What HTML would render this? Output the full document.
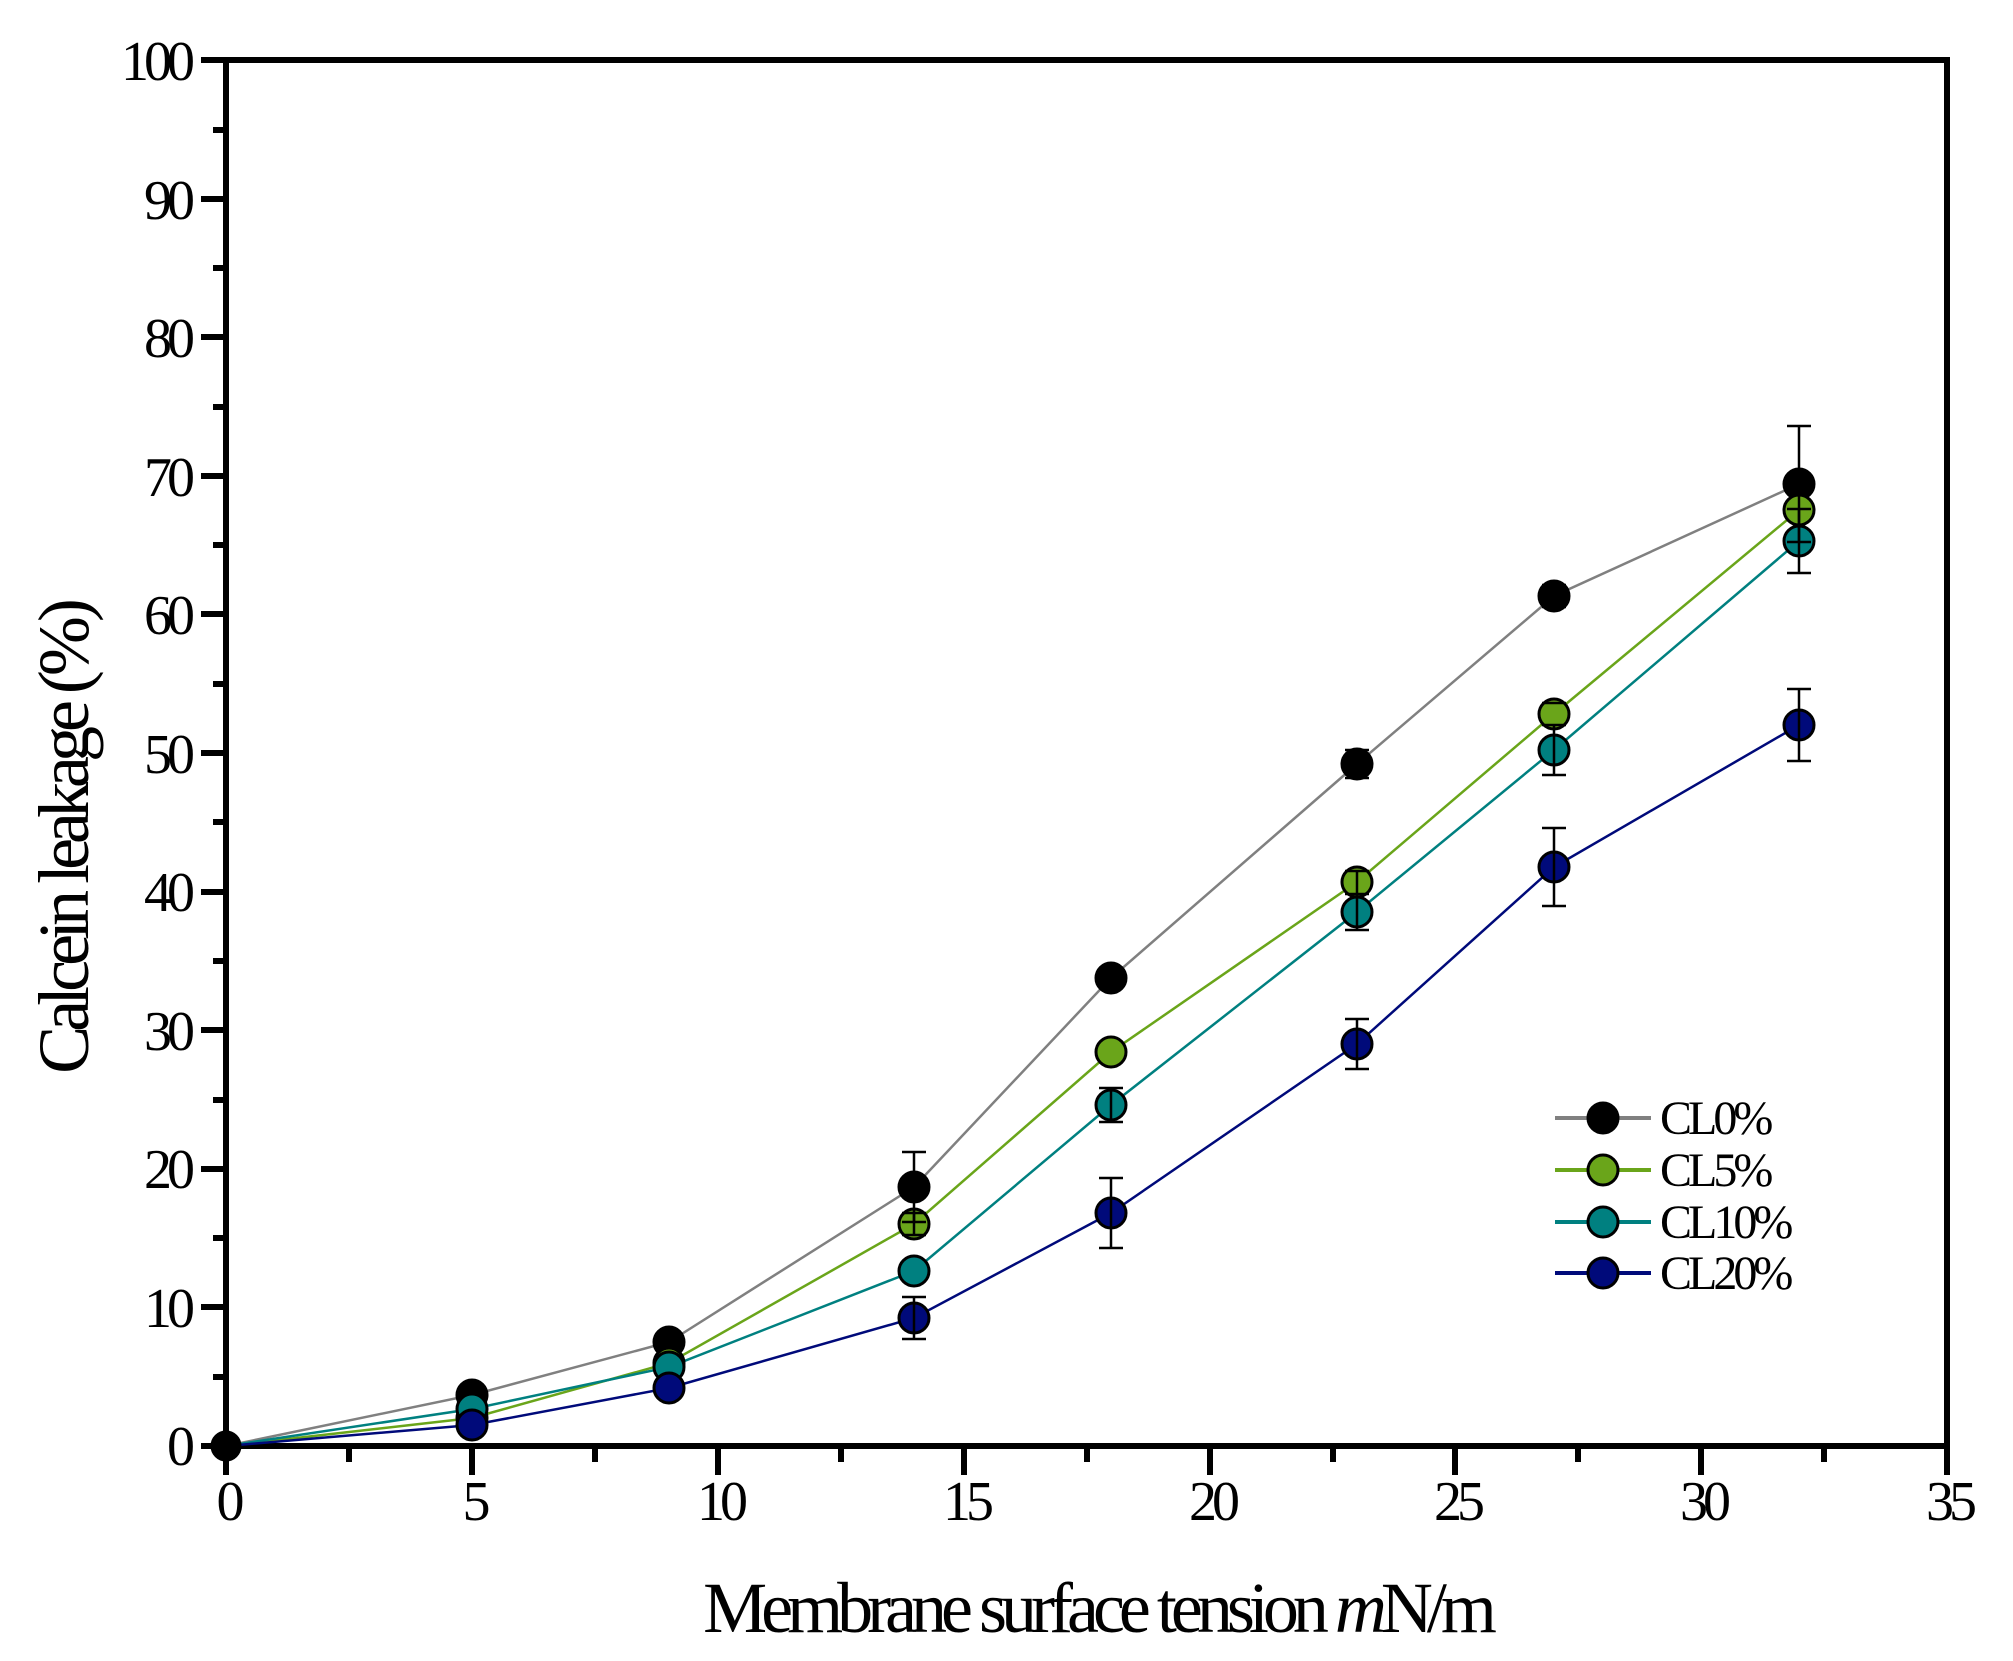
<!DOCTYPE html>
<html><head><meta charset="utf-8"><style>html,body{margin:0;padding:0;background:#fff}svg{display:block}text{font-family:"Liberation Serif",serif;fill:#000}</style></head><body>
<svg width="2013" height="1661" viewBox="0 0 2013 1661" xmlns="http://www.w3.org/2000/svg">
<g stroke="#000" stroke-width="6" fill="none">
<rect x="226" y="60" width="1721" height="1386"/>
<path d="M201 1446H226M201 1307H226M201 1169H226M201 1030H226M201 892H226M201 753H226M201 614H226M201 476H226M201 337H226M201 199H226M201 60H226"/>
<path d="M213 1377H226M213 1238H226M213 1100H226M213 961H226M213 822H226M213 684H226M213 545H226M213 407H226M213 268H226M213 130H226"/>
<path d="M226 1446V1475M472 1446V1475M718 1446V1475M964 1446V1475M1210 1446V1475M1455 1446V1475M1701 1446V1475M1947 1446V1475"/>
<path d="M349 1446V1462M595 1446V1462M841 1446V1462M1087 1446V1462M1333 1446V1462M1578 1446V1462M1824 1446V1462"/>
</g>
<g font-size="56" text-anchor="end" letter-spacing="-5">
<text x="190" y="1465">0</text><text x="190" y="1327">10</text><text x="190" y="1188">20</text><text x="190" y="1050">30</text><text x="190" y="911">40</text><text x="190" y="773">50</text><text x="190" y="634">60</text><text x="190" y="496">70</text><text x="190" y="357">80</text><text x="190" y="219">90</text><text x="190" y="80">100</text>
</g>
<g font-size="56" text-anchor="middle" letter-spacing="-5">
<text x="228" y="1520">0</text><text x="474" y="1520">5</text><text x="720" y="1520">10</text><text x="966" y="1520">15</text><text x="1212" y="1520">20</text><text x="1457" y="1520">25</text><text x="1703" y="1520">30</text><text x="1949" y="1520">35</text>
</g>
<text x="1097" y="1632" font-size="72" text-anchor="middle" letter-spacing="-6">Membrane surface tension <tspan font-style="italic">m</tspan>N/m</text>
<text transform="translate(88,839) rotate(-90)" font-size="72" text-anchor="middle" letter-spacing="-6">Calcein leakage (%)</text>

<g fill="none" stroke-width="2.5">
<polyline stroke="#808080" points="226,1446 472,1395 669,1342 914,1187 1111,978 1357,764 1554,596 1799,484"/>
<polyline stroke="#6aa51a" points="226,1446 472,1418 669,1363 914,1224 1111,1052 1357,882 1554,714 1799,510"/>
<polyline stroke="#008080" points="226,1446 472,1409 669,1367 914,1271 1111,1105 1357,912 1554,750 1799,541"/>
<polyline stroke="#000a7a" points="226,1446 472,1425 669,1388 914,1318 1111,1213 1357,1044 1554,867 1799,725"/>
</g>
<g stroke="#000" stroke-width="3">
<g fill="#000"><circle cx="226" cy="1446" r="14"/><circle cx="472" cy="1395" r="15"/><circle cx="669" cy="1342" r="15"/><circle cx="914" cy="1187" r="15"/><circle cx="1111" cy="978" r="15"/><circle cx="1357" cy="764" r="15"/><circle cx="1554" cy="596" r="15"/><circle cx="1799" cy="484" r="15"/></g>
<g fill="#6aa51a"><circle cx="472" cy="1418" r="15"/><circle cx="669" cy="1363" r="15"/><circle cx="914" cy="1224" r="15"/><circle cx="1111" cy="1052" r="15"/><circle cx="1357" cy="882" r="15"/><circle cx="1554" cy="714" r="15"/><circle cx="1799" cy="510" r="15"/></g>
<g fill="#008080"><circle cx="472" cy="1409" r="15"/><circle cx="669" cy="1367" r="15"/><circle cx="914" cy="1271" r="15"/><circle cx="1111" cy="1105" r="15"/><circle cx="1357" cy="912" r="15"/><circle cx="1554" cy="750" r="15"/><circle cx="1799" cy="541" r="15"/></g>
<g fill="#000a7a"><circle cx="472" cy="1425" r="15"/><circle cx="669" cy="1388" r="15"/><circle cx="914" cy="1318" r="15"/><circle cx="1111" cy="1213" r="15"/><circle cx="1357" cy="1044" r="15"/><circle cx="1554" cy="867" r="15"/><circle cx="1799" cy="725" r="15"/></g>
</g>
<g stroke="#000" stroke-width="2.5" fill="none">
<path d="M914 1152V1222M902 1152H926M902 1222H926"/>
<path d="M1357 750V778M1345 750H1369M1345 778H1369"/>
<path d="M1554 585V607M1542 585H1566M1542 607H1566"/>
<path d="M1799 426V542M1787 426H1811M1787 542H1811"/>
<path d="M914 1213V1235M902 1213H926M902 1235H926"/>
<path d="M1357 871V893M1345 871H1369M1554 703H1566M1542 703H1566"/>
<path d="M1799 509V573M1787 509H1811M1787 573H1811"/>
<path d="M1554 725V775M1542 725H1566M1542 775H1566"/>
<path d="M1357 894V930M1345 894H1369M1345 930H1369"/>
<path d="M1111 1088V1122M1099 1088H1123M1099 1122H1123"/>
<path d="M914 1297V1339M902 1297H926M902 1339H926"/>
<path d="M1111 1178V1248M1099 1178H1123M1099 1248H1123"/>
<path d="M1357 1019V1069M1345 1019H1369M1345 1069H1369"/>
<path d="M1554 828V906M1542 828H1566M1542 906H1566"/>
<path d="M1799 689V761M1787 689H1811M1787 761H1811"/>
</g>
<g stroke-width="4">
<line x1="1555" y1="1118" x2="1651" y2="1118" stroke="#808080"/>
<line x1="1555" y1="1170" x2="1651" y2="1170" stroke="#6aa51a"/>
<line x1="1555" y1="1222" x2="1651" y2="1222" stroke="#008080"/>
<line x1="1555" y1="1273" x2="1651" y2="1273" stroke="#000a7a"/>
</g>
<g stroke="#000" stroke-width="3">
<circle cx="1603" cy="1118" r="15" fill="#000"/>
<circle cx="1603" cy="1170" r="15" fill="#6aa51a"/>
<circle cx="1603" cy="1222" r="15" fill="#008080"/>
<circle cx="1603" cy="1273" r="15" fill="#000a7a"/>
</g>
<g font-size="48" letter-spacing="-4">
<text x="1660" y="1134">CL0%</text><text x="1660" y="1186">CL5%</text><text x="1660" y="1238">CL10%</text><text x="1660" y="1289">CL20%</text>
</g>
</svg>
</body></html>
